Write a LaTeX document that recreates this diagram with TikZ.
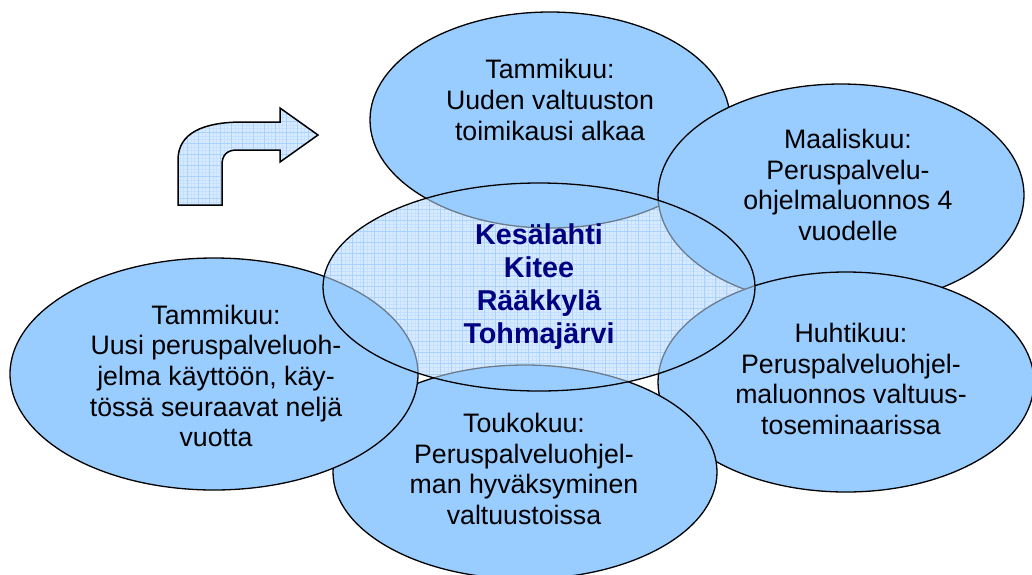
\documentclass[tikz,border=0pt]{standalone}
\usepackage{fontspec}
\setmainfont{Liberation Sans}
\usetikzlibrary{shapes.geometric}

\definecolor{bubblefill}{HTML}{99CCFF}
\definecolor{meshfill}{HTML}{D7EAFF}
\definecolor{meshline}{HTML}{A8D2FF}
\definecolor{meshfine}{HTML}{C6E1FF}
\definecolor{seamgray}{HTML}{6C7C8C}
\definecolor{hubblue}{HTML}{000080}

\tikzset{
  bubble/.style={ellipse, draw=black, line width=1.3pt, fill=bubblefill, inner sep=0pt, outer sep=0pt},
  mesh/.style={fill=meshfill, path picture={
      \draw[meshfine, line width=0.3pt, step=3.67pt] (path picture bounding box.south west) grid (path picture bounding box.north east);
      \draw[meshline, line width=0.8pt, step=11pt] (path picture bounding box.south west) grid (path picture bounding box.north east);}},
  month/.style={align=center, font=\fontsize{26.7}{30.6}\selectfont},
  hub/.style={ellipse, draw=black, line width=1.3pt, inner sep=0pt, outer sep=0pt, align=center, text=hubblue, font=\fontsize{28.7}{33}\selectfont\bfseries}
}

% centre x / centre y / x radius / y radius, back to front
\def\bubblelist{tammi/550/120/180/108, maalis/841/195/183/111, huhti/846/382/188/110, touko/525/472/192/107, kaytto/214/374/204/116}

\begin{document}
\begin{tikzpicture}[x=1pt,y=-1pt]
\useasboundingbox (0,0) rectangle (1032,574);

% outer bubbles
\foreach \nm/\cx/\cy/\rx/\ry in \bubblelist
  \node[bubble, minimum width=2*\rx, minimum height=2*\ry] (\nm) at (\cx,\cy) {};

% inside the middle one: mesh, the bubbles again with grey seams
\begin{scope}
  \clip (539,287) ellipse [x radius=216, y radius=104];
  \path[mesh] (539,287) ellipse [x radius=216, y radius=104];
  \foreach \nm/\cx/\cy/\rx/\ry in \bubblelist
    \filldraw[fill=bubblefill, draw=seamgray, line width=1.3pt] (\cx,\cy) ellipse [x radius=\rx, y radius=\ry];
\end{scope}
\node[hub, minimum width=432, minimum height=208] (kunnat) at (539,287) {Kesälahti\\Kitee\\Rääkkylä\\Tohmajärvi};

% texts
\node[month] (tammiteksti) at (550,100) {Tammikuu:\\Uuden valtuuston\\toimikausi alkaa};
\node[month] (maalisteksti) at (848,185) {Maaliskuu:\\Peruspalvelu-\\ohjelmaluonnos 4\\vuodelle};
\node[month] (huhtiteksti) at (851,379) {Huhtikuu:\\Peruspalveluohjel-\\maluonnos valtuus-\\toseminaarissa};
\node[month] (toukoteksti) at (524,469) {Toukokuu:\\Peruspalveluohjel-\\man hyväksyminen\\valtuustoissa};
\node[month] (kayttoteksti) at (216,376) {Tammikuu:\\Uusi peruspalveluoh-\\jelma käyttöön, käy-\\tössä seuraavat neljä\\vuotta};

% bent arrow
\draw[mesh, line width=1.5pt, line join=miter] (178,205) -- (178,160)
  .. controls (178,133) and (203,122) .. (243,122) -- (280,122) -- (280,108)
  -- (318,135) -- (280,162) -- (280,150) -- (237,150)
  .. controls (227,150) and (222,155) .. (222,165) -- (222,205) -- cycle;
\end{tikzpicture}
\end{document}
